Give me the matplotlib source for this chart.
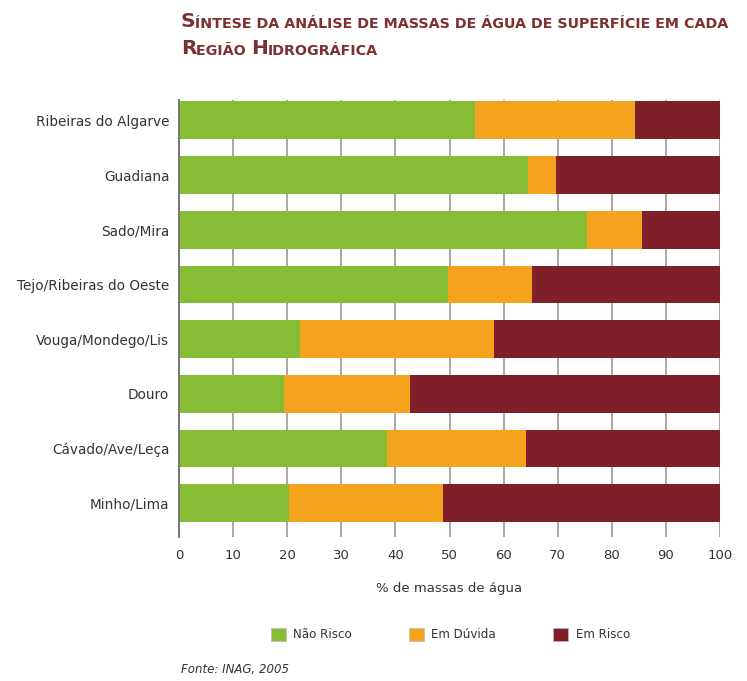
import matplotlib
matplotlib.use("Agg")
import matplotlib.pyplot as plt
from matplotlib.patches import Patch

# Data (top to bottom as in the picture)
regions = ["Ribeiras do Algarve", "Guadiana", "Sado/Mira", "Tejo/Ribeiras do Oeste",
           "Vouga/Mondego/Lis", "Douro", "Cávado/Ave/Leça", "Minho/Lima"]
nao_risco = [54.8, 64.5, 75.4, 49.7, 22.3, 19.4, 38.5, 20.3]
em_duvida = [29.4, 5.1, 10.1, 15.6, 36.0, 23.3, 25.6, 28.5]
em_risco = [15.8, 30.4, 14.5, 34.7, 41.7, 57.3, 35.9, 51.2]
series_labels = ["Não Risco", "Em Dúvida", "Em Risco"]
ticks = list(range(0, 101, 10))

GREEN, ORANGE, RED = "#86bd35", "#f5a31d", "#7f1f27"
TITLE_C = "#7d3030"
TEXT_C = "#333333"

fig = plt.figure(figsize=(7.47, 6.81), dpi=100)
ax = fig.add_axes([0.2396, 0.2115, 0.7243, 0.6415])

ypos = list(range(len(regions) - 1, -1, -1))
h = 0.69
ax.barh(ypos, nao_risco, height=h, color=GREEN, zorder=3)
left2 = nao_risco
ax.barh(ypos, em_duvida, left=left2, height=h, color=ORANGE, zorder=3)
left3 = [a + b for a, b in zip(nao_risco, em_duvida)]
ax.barh(ypos, em_risco, left=left3, height=h, color=RED, zorder=3)

ax.set_xlim(0, 100)
ax.set_ylim(-0.62, 7.37)
ax.set_xticks(ticks)
ax.set_xticklabels([str(t) for t in ticks], fontsize=9.5, color=TEXT_C)
ax.set_yticks(ypos)
ax.set_yticklabels(regions, fontsize=9.8, color=TEXT_C)
ax.tick_params(axis="both", length=0)
ax.tick_params(axis="x", pad=9)
ax.tick_params(axis="y", pad=7)
ax.grid(axis="x", color="#a0a0a0", linewidth=1.3, zorder=0)
for s in ["top", "right", "bottom"]:
    ax.spines[s].set_visible(False)
ax.spines["left"].set_color("#707070")
ax.spines["left"].set_linewidth(1.3)
ax.spines["left"].set_zorder(4)

ax.set_xlabel("% de massas de água", fontsize=9.5, color=TEXT_C, labelpad=14)

# legend
handles = [Patch(facecolor=c, edgecolor="#bbbbbb", linewidth=0.5) for c in (GREEN, ORANGE, RED)]
fig.legend(handles, series_labels, loc="center", bbox_to_anchor=(0.603, 0.068),
           ncol=3, frameon=False, fontsize=8.6, handlelength=1.25, handleheight=1.25,
           handletextpad=0.6, columnspacing=4.8, labelcolor=TEXT_C)

# title in small caps
big, small = 14.5, 10.3
t = fig.text(0.242, 0.955, "S", fontsize=big, fontweight="bold", color=TITLE_C, va="bottom")
plt.annotate("ÍNTESE DA ANÁLISE DE MASSAS DE ÁGUA DE SUPERFÍCIE EM CADA",
             xy=(1, 0), xycoords=t, va="bottom", fontsize=small,
             fontweight="bold", color=TITLE_C, annotation_clip=False)
t2 = fig.text(0.242, 0.915, "R", fontsize=big, fontweight="bold", color=TITLE_C, va="bottom")
a2 = plt.annotate("EGIÃO ", xy=(1, 0), xycoords=t2, va="bottom", fontsize=small,
                  fontweight="bold", color=TITLE_C, annotation_clip=False)
a3 = plt.annotate("H", xy=(1, 0), xycoords=a2, va="bottom", fontsize=big,
                  fontweight="bold", color=TITLE_C, annotation_clip=False)
plt.annotate("IDROGRÁFICA", xy=(1, 0), xycoords=a3, va="bottom", fontsize=small,
             fontweight="bold", color=TITLE_C, annotation_clip=False)

fig.text(0.242, 0.012, "Fonte: INAG, 2005", fontsize=8.5, style="italic", color=TEXT_C)

fig.savefig("out.png", dpi=100)
